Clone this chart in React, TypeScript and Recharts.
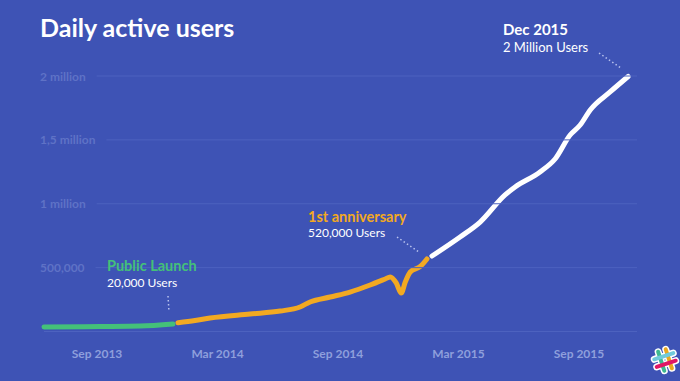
import { Line, LineChart, XAxis, YAxis } from 'recharts'

// months counted from Jan 2013 (Sep 2013 = 8)
const xTicks = [8, 14, 20, 26, 32]
const xTickLabels = ['Sep 2013', 'Mar 2014', 'Sep 2014', 'Mar 2015', 'Sep 2015']
const yTicks = [0, 500000, 1000000, 1500000, 2000000]
const yTickLabels = ['', '500,000', '1 million', '1,5 million', '2 million']

// beta -> public launch
const launchMonths = [5.36, 8.15, 10.14, 11.78]
const launchUsers = [35000, 39000, 43000, 59000]

// first year after launch
const growthMonths = [
  12.03, 12.88, 13.63, 15.62, 17.12, 18.11, 18.61, 19.61, 20.6, 21.6, 22.35,
  22.6, 22.9, 23.15, 23.35, 23.6, 24.1, 24.43,
]
const growthUsers = [
  69000, 86000, 106000, 137000, 160000, 192000, 231000, 270000, 309000, 364000,
  411000, 427000, 380000, 301000, 387000, 466000, 509000, 568000,
]

// up to 2 million
const scaleMonths = [
  24.68, 26.08, 27.08, 28.32, 28.82, 30.06, 30.81, 31.56, 32.06, 32.56, 33.55,
  34.45,
]
const scaleUsers = [
  591000, 740000, 857000, 1069000, 1131000, 1249000, 1350000, 1538000, 1616000,
  1734000, 1875000, 1996000,
]

const BG = '#3e53b5'
const GRID = '#4d62bf'
const Y_LABEL = '#5f72c6'
const X_LABEL = '#8e9fdc'
const GREEN = '#44c079'
const ORANGE = '#f2a922'
const FONT = 'Lato, "Open Sans", sans-serif'
const GRID_RIGHT = 637

const toRows = (months: number[], users: number[]) =>
  months.map((month, i) => ({ month, users: users[i] }))

let ctx: CanvasRenderingContext2D | null = null
function textWidth(text: string, font: string) {
  if (!ctx) ctx = document.createElement('canvas').getContext('2d')
  if (!ctx) return text.length * 6
  ctx.font = font
  return ctx.measureText(text).width
}

function YTick(props: any) {
  const { y, payload } = props
  const i = yTicks.indexOf(payload.value)
  const label = yTickLabels[i] ?? ''
  if (!label) {
    return <line x1={44} x2={GRID_RIGHT} y1={y} y2={y} stroke={GRID} strokeWidth={1} />
  }
  const w = textWidth(label, `700 12px Lato`)
  return (
    <g>
      <text
        x={40}
        y={y}
        dominantBaseline="central"
        fill={Y_LABEL}
        fontSize={12}
        fontWeight={700}
        fontFamily={FONT}
      >
        {label}
      </text>
      <line x1={40 + w + 11} x2={GRID_RIGHT} y1={y} y2={y} stroke={GRID} strokeWidth={1} />
    </g>
  )
}

function XTick(props: any) {
  const { x, payload } = props
  const i = xTicks.indexOf(payload.value)
  return (
    <text
      x={x}
      y={353}
      textAnchor="middle"
      dominantBaseline="central"
      fill={X_LABEL}
      fontSize={12}
      fontWeight={700}
      fontFamily={FONT}
    >
      {xTickLabels[i]}
    </text>
  )
}

function SlackMark() {
  const bars = [
    { x1: -4, y1: -10, x2: -4, y2: 10, c: '#3eb991' },
    { x1: 4, y1: -10, x2: 4, y2: 10, c: '#e9a820' },
    { x1: -10, y1: -4, x2: 10, y2: -4, c: '#70cadb' },
    { x1: -10, y1: 4, x2: 10, y2: 4, c: '#e01765' },
  ]
  return (
    <g transform="translate(665 360) rotate(-18)">
      {bars.map((b, i) => (
        <line key={`o${i}`} {...b} stroke="#ffffff" strokeWidth={7} strokeLinecap="round" />
      ))}
      {bars.map((b, i) => (
        <line key={`b${i}`} {...b} stroke={b.c} strokeWidth={4} strokeLinecap="round" />
      ))}
    </g>
  )
}

function Notes() {
  const dots = { stroke: '#b9c3ee', strokeWidth: 1.5, strokeDasharray: '1.5 2.5' }
  return (
    <svg
      width={680}
      height={381}
      style={{ position: 'absolute', left: 0, top: 0, pointerEvents: 'none' }}
    >
      <text x={40} y={37} fill="#ffffff" fontSize={25} fontWeight={700} fontFamily={FONT}>
        Daily active users
      </text>

      <text x={107} y={271} fill={GREEN} fontSize={14.5} fontWeight={700} fontFamily={FONT}>
        Public Launch
      </text>
      <text x={107} y={287} fill="#ffffff" fontSize={12} fontFamily={FONT}>
        20,000 Users
      </text>
      <line x1={168} y1={296} x2={169} y2={312} {...dots} />

      <text x={308} y={222} fill={ORANGE} fontSize={14.5} fontWeight={700} fontFamily={FONT}>
        1st anniversary
      </text>
      <text x={308} y={237} fill="#ffffff" fontSize={12} fontFamily={FONT}>
        520,000 Users
      </text>
      <line x1={397} y1={237} x2={419} y2={252} {...dots} />

      <text x={503} y={35} fill="#ffffff" fontSize={15} fontWeight={700} fontFamily={FONT}>
        Dec 2015
      </text>
      <text x={503} y={52} fill="#ffffff" fontSize={13} fontFamily={FONT}>
        2 Million Users
      </text>
      <line x1={599} y1={53} x2={621} y2={68} {...dots} />

      <SlackMark />
    </svg>
  )
}

export default function App() {
  return (
    <div
      style={{
        position: 'absolute',
        left: 0,
        top: 0,
        width: 680,
        height: 381,
        background: BG,
        overflow: 'hidden',
      }}
    >
      <LineChart
        width={680}
        height={381}
        margin={{ top: 76, right: 40.8, bottom: 19.5, left: 35.8 }}
      >
        <XAxis
          dataKey="month"
          type="number"
          domain={[5, 35]}
          ticks={xTicks}
          interval={0}
          height={30}
          axisLine={false}
          tickLine={false}
          tick={XTick}
        />
        <YAxis
          type="number"
          domain={[0, 2000000]}
          ticks={yTicks}
          interval={0}
          width={1}
          axisLine={false}
          tickLine={false}
          tick={YTick}
        />
        <Line
          data={toRows(launchMonths, launchUsers)}
          dataKey="users"
          type="monotone"
          stroke={GREEN}
          strokeWidth={5}
          strokeLinecap="round"
          dot={false}
          activeDot={false}
          isAnimationActive={false}
        />
        <Line
          data={toRows(growthMonths, growthUsers)}
          dataKey="users"
          type="monotone"
          stroke={ORANGE}
          strokeWidth={5}
          strokeLinecap="round"
          dot={false}
          activeDot={false}
          isAnimationActive={false}
        />
        <Line
          data={toRows(scaleMonths, scaleUsers)}
          dataKey="users"
          type="monotone"
          stroke="#ffffff"
          strokeWidth={5}
          strokeLinecap="round"
          dot={false}
          activeDot={false}
          isAnimationActive={false}
        />
      </LineChart>
      <Notes />
    </div>
  )
}
